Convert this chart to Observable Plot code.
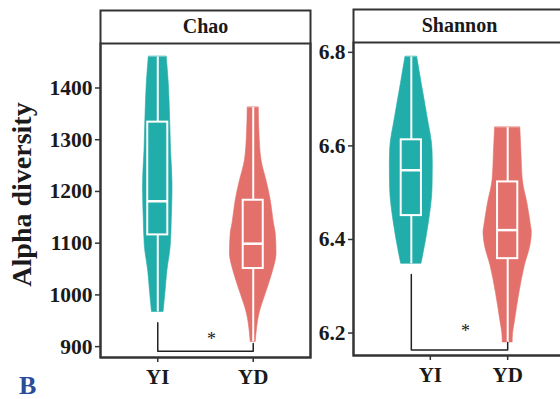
<!DOCTYPE html>
<html>
<head>
<meta charset="utf-8">
<script src="https://cdn.jsdelivr.net/npm/d3@7"></script>
<script src="https://cdn.jsdelivr.net/npm/@observablehq/plot@0.6"></script>
<style>
  html, body { margin: 0; padding: 0; background: #fff; }
  #fig { position: relative; width: 560px; height: 399px; overflow: hidden; font-family: "Liberation Serif", "Times New Roman", serif; }
  #fig svg { position: absolute; top: 0; overflow: visible; }
  #fig svg text { font-family: "Liberation Serif", "Times New Roman", serif !important; }
  #tag { position: absolute; left: 19px; top: 376px; font-size: 26px; line-height: 0.8; font-weight: bold; color: #2B4C9B; font-family: "Liberation Serif", "Times New Roman", serif; }
</style>
</head>
<body>
<div id="fig"><div id="tag">B</div></div>
<script>
// Groups and fill colours
const groups = ["YI", "YD"];
const colors = ["#21ADAA", "#E3706A"];

// Violin outlines: [value, half-width of the density in group units]
const chaoYI = [[1460, .094], [1409, .115], [1344, .129], [1279, .139], [1216, .154], [1199, .154], [1148, .147], [1095, .136], [1044, .099], [1006, .081], [967, .061]];
const chaoYD = [[1362, .058], [1312, .065], [1260, .087], [1215, .147], [1183, .183], [1138, .217], [1118, .236], [1080, .244], [1041, .199], [1002, .131], [964, .066], [925, .034], [909, .026]];
const shannonYI = [[6.790, .061], [6.733, .108], [6.662, .168], [6.591, .220], [6.558, .223], [6.509, .220], [6.437, .183], [6.366, .123], [6.348, .105]];
const shannonYD = [[6.639, .131], [6.584, .143], [6.526, .157], [6.476, .206], [6.426, .244], [6.416, .251], [6.387, .236], [6.344, .178], [6.287, .123], [6.230, .079], [6.187, .052], [6.180, .052]];

// Box statistics per group: [min, Q1, median, Q3, max]
const chaoStats = [[967, 1116, 1181, 1334, 1460], [909, 1051, 1099, 1183, 1362]];
const shannonStats = [[6.348, 6.451, 6.548, 6.613, 6.790], [6.180, 6.359, 6.420, 6.523, 6.639]];

// Significance bracket: [YI end, baseline, YD end], and the star's height
const chaoBracket = [946, 891, 906];
const shannonBracket = [6.325, 6.164, 6.180];
const chaoStarY = 914;
const shannonStarY = 6.203;

// Axis ticks
const chaoTicks = [900, 1000, 1100, 1200, 1300, 1400];
const shannonTicks = [6.2, 6.4, 6.6, 6.8];

const INK = "#1a1a1a";
const LINE = "#333";
const BOX_HW = 0.105;

function panel({title, profiles, stats, bracket, starY, ticks, tickFormat, domain, width, left, marginLeft, marginRight, marginTop, marginBottom, yiShift, yLabel}) {
  const marks = [];
  // violins
  profiles.forEach((prof, i) => {
    marks.push(Plot.areaX(prof, {
      y: d => d[0], x1: d => i - d[1], x2: d => i + d[1],
      fill: colors[i], stroke: colors[i], strokeWidth: 0.6, curve: "monotone-y"
    }));
  });
  // boxplots drawn in white over each violin
  stats.forEach((s, i) => {
    marks.push(Plot.ruleX([s], {x: () => i, y1: d => d[3], y2: d => d[4], stroke: "white", strokeWidth: 2}));
    marks.push(Plot.ruleX([s], {x: () => i, y1: d => d[0], y2: d => d[1], stroke: "white", strokeWidth: 2}));
    marks.push(Plot.rect([s], {x1: () => i - BOX_HW, x2: () => i + BOX_HW, y1: d => d[1], y2: d => d[3], fill: "none", stroke: "white", strokeWidth: 2}));
    marks.push(Plot.ruleY([s], {y: d => d[2], x1: () => i - BOX_HW, x2: () => i + BOX_HW, stroke: "white", strokeWidth: 2.5}));
  });
  // significance bracket
  const br = [[0, bracket[0]], [0, bracket[1]], [1, bracket[1]], [1, bracket[2]]];
  marks.push(Plot.line(br, {x: d => d[0], y: d => d[1], stroke: "#222", strokeWidth: 1.5}));
  marks.push(Plot.text(["*"], {x: () => 0.5, y: () => starY, dx: 6, fontSize: 18, fill: INK}));

  // panel border and strip header
  marks.push(Plot.frame({stroke: LINE, strokeWidth: 2}));
  marks.push(Plot.frame({stroke: LINE, strokeWidth: 2, insetTop: -33}));
  marks.push(Plot.text([title], {frameAnchor: "top", dy: -16.5, lineAnchor: "middle", fontSize: 20, fontWeight: "bold", fill: INK}));

  // axes
  marks.push(Plot.axisY({ticks, tickFormat, tickSize: 5, tickPadding: 3, fontSize: 21.5, fontWeight: "bold", fill: INK, stroke: LINE, strokeWidth: 1.5, label: null}));
  marks.push(Plot.axisX({ticks: [0], tickFormat: i => groups[i], dx: yiShift, tickSize: 5, tickPadding: 7, fontSize: 21, fontWeight: "bold", fill: INK, stroke: LINE, strokeWidth: 1.5, label: null}));
  marks.push(Plot.axisX({ticks: [1], tickFormat: i => groups[i], tickSize: 5, tickPadding: 7, fontSize: 21, fontWeight: "bold", fill: INK, stroke: LINE, strokeWidth: 1.5, label: null}));
  if (yLabel) {
    marks.push(Plot.text([yLabel], {frameAnchor: "left", textAnchor: "middle", lineAnchor: "middle", rotate: -90, dx: -78, dy: -6, fontSize: 28, fontWeight: "bold", fill: INK}));
  }

  const svg = Plot.plot({
    width, height: 399, marginLeft, marginRight, marginTop, marginBottom,
    x: {domain: [-0.6, 1.6], axis: null},
    y: {domain, axis: null},
    style: {background: "transparent", overflow: "visible"},
    marks
  });
  svg.style.left = left + "px";
  return svg;
}

const fig = document.getElementById("fig");
fig.appendChild(panel({
  title: "Chao", profiles: [chaoYI, chaoYD], stats: chaoStats, bracket: chaoBracket, starY: chaoStarY,
  ticks: chaoTicks, tickFormat: d => String(d), domain: [879, 1486],
  width: 312, left: 0, marginLeft: 100, marginRight: 2, marginTop: 43, marginBottom: 42, yiShift: 0,
  yLabel: "Alpha diversity"
}));
fig.appendChild(panel({
  title: "Shannon", profiles: [shannonYI, shannonYD], stats: shannonStats, bracket: shannonBracket, starY: shannonStarY,
  ticks: shannonTicks, tickFormat: d3.format(".1f"), domain: [6.152, 6.821],
  width: 256, left: 312, marginLeft: 41, marginRight: 3, marginTop: 42, marginBottom: 44, yiShift: 19
}));
</script>
</body>
</html>
